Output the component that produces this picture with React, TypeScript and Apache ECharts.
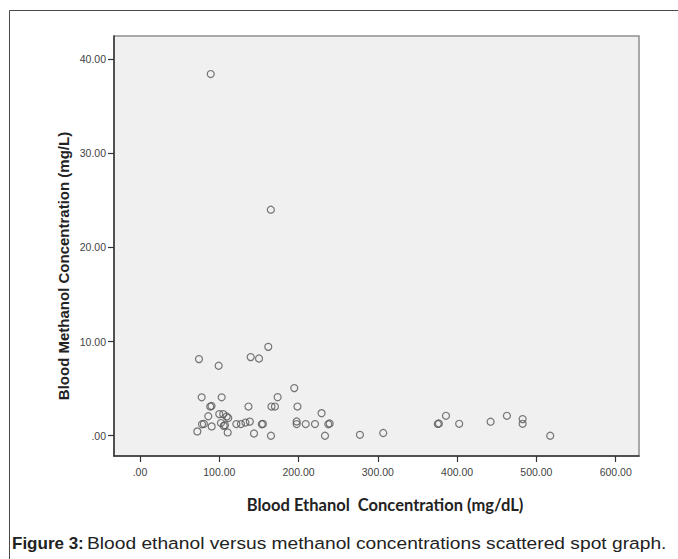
import React, { useEffect, useRef } from "react";
import * as echarts from "echarts";

// Blood ethanol (mg/dL) and blood methanol (mg/L) readings, one pair per point
const ethanol = [
  89.2, 165, 161.8, 74.4, 99.2, 139.6, 150.1, 194.6, 77.8, 103, 173.6,
  88.6, 90.2, 136.8, 165.8, 170.2, 198.6, 229, 86.1, 100, 105, 109.3, 111.3,
  78.2, 80.6, 90.4, 72.3, 102.1, 105.6, 107.2, 110.6, 121.5, 127.3, 133, 138.5,
  143.8, 153.6, 155, 165.2, 197.6, 197.6, 209, 220.7, 237.5, 239.2, 233.3,
  277.4, 306.8, 375.6, 377, 385.9, 402.6, 442.2, 462.8, 482.6, 482.6, 517.4,
];
const methanol = [
  38.4, 24.0, 9.44, 8.14, 7.43, 8.35, 8.2, 5.06, 4.08, 4.08, 4.1,
  3.1, 3.16, 3.1, 3.1, 3.1, 3.1, 2.4, 2.07, 2.3, 2.3, 2.05, 1.88,
  1.22, 1.26, 0.99, 0.46, 1.35, 1.05, 1.12, 0.35, 1.24, 1.24, 1.4, 1.5,
  0.24, 1.22, 1.26, 0.0, 1.52, 1.24, 1.24, 1.24, 1.22, 1.3, 0.0,
  0.1, 0.29, 1.25, 1.3, 2.12, 1.27, 1.49, 2.12, 1.77, 1.27, 0.0,
];

const xTickValues = [0, 100, 200, 300, 400, 500, 600];
const yTickValues = [0, 10, 20, 30, 40];

const xTitle = "Blood Ethanol  Concentration (mg/dL)";
const yTitle = "Blood Methanol Concentration (mg/L)";
const captionBold = "Figure 3:";
const captionText = "Blood ethanol versus methanol concentrations scattered spot graph.";

const fmt = (v: number) => (v === 0 ? ".00" : v.toFixed(2));

export default function App() {
  const ref = useRef<HTMLDivElement>(null);

  useEffect(() => {
    if (!ref.current) return;
    const chart = echarts.init(ref.current, null, { renderer: "svg" });
    const points = ethanol.map((x, i) => [x, methanol[i]]);
    const labelFont = '"Liberation Sans", Arial, sans-serif';

    chart.setOption({
      animation: false,
      backgroundColor: "#ffffff",
      grid: {
        left: 114,
        top: 36,
        width: 525,
        height: 420,
        show: true,
        backgroundColor: "#f0f0f0",
        borderColor: "#8f8f8f",
        borderWidth: 1.5,
      },
      xAxis: {
        type: "value",
        min: -32.8,
        max: 629.4,
        splitLine: { show: false },
        axisLine: { show: true, onZero: false, lineStyle: { color: "#333333", width: 1.5 } },
        axisTick: {
          show: true,
          length: 6,
          customValues: xTickValues,
          lineStyle: { color: "#333333", width: 1.2 },
        },
        axisLabel: {
          customValues: xTickValues,
          formatter: fmt,
          margin: 10,
          fontSize: 10.5,
          color: "#444444",
          fontFamily: labelFont,
        },
      },
      yAxis: {
        type: "value",
        min: -2.15,
        max: 42.44,
        splitLine: { show: false },
        axisLine: { show: true, onZero: false, lineStyle: { color: "#333333", width: 1.5 } },
        axisTick: {
          show: true,
          length: 6,
          customValues: yTickValues,
          lineStyle: { color: "#333333", width: 1.2 },
        },
        axisLabel: {
          customValues: yTickValues,
          formatter: fmt,
          margin: 8,
          fontSize: 10.5,
          color: "#444444",
          fontFamily: labelFont,
        },
      },
      series: [
        {
          type: "scatter",
          data: points,
          symbol: "circle",
          symbolSize: 7,
          itemStyle: {
            color: "rgba(0,0,0,0)",
            borderColor: "#555555",
            borderWidth: 1.2,
          },
          emphasis: { disabled: true },
        },
      ],
      graphic: [
        {
          type: "rect",
          silent: true,
          shape: { x: 9.5, y: 10.5, width: 720, height: 620 },
          style: { fill: "none", stroke: "#4a4a4a", lineWidth: 1 },
        },
        {
          type: "text",
          x: 63,
          y: 266,
          rotation: Math.PI / 2,
          style: {
            text: yTitle,
            fontSize: 15,
            fontWeight: "bold",
            fontFamily: labelFont,
            fill: "#222222",
            align: "center",
            verticalAlign: "middle",
          },
        },
        {
          type: "text",
          x: 385,
          y: 505,
          style: {
            text: xTitle,
            fontSize: 16.5,
            fontWeight: "bold",
            fontFamily: "Lato, sans-serif",
            fill: "#222222",
            align: "center",
            verticalAlign: "middle",
          },
        },
        {
          type: "text",
          x: 12,
          y: 543,
          style: {
            text: captionBold,
            fontSize: 17,
            fontWeight: "bold",
            fontFamily: labelFont,
            fill: "#222222",
            align: "left",
            verticalAlign: "middle",
          },
        },
        {
          type: "text",
          x: 87,
          y: 543,
          scaleX: 1.13,
          style: {
            text: captionText,
            fontSize: 17,
            fontFamily: labelFont,
            fill: "#222222",
            align: "left",
            verticalAlign: "middle",
          },
        },
      ],
    });

    return () => chart.dispose();
  }, []);

  return (
    <div
      ref={ref}
      style={{ position: "absolute", left: 0, top: 0, width: 678, height: 559 }}
    />
  );
}
